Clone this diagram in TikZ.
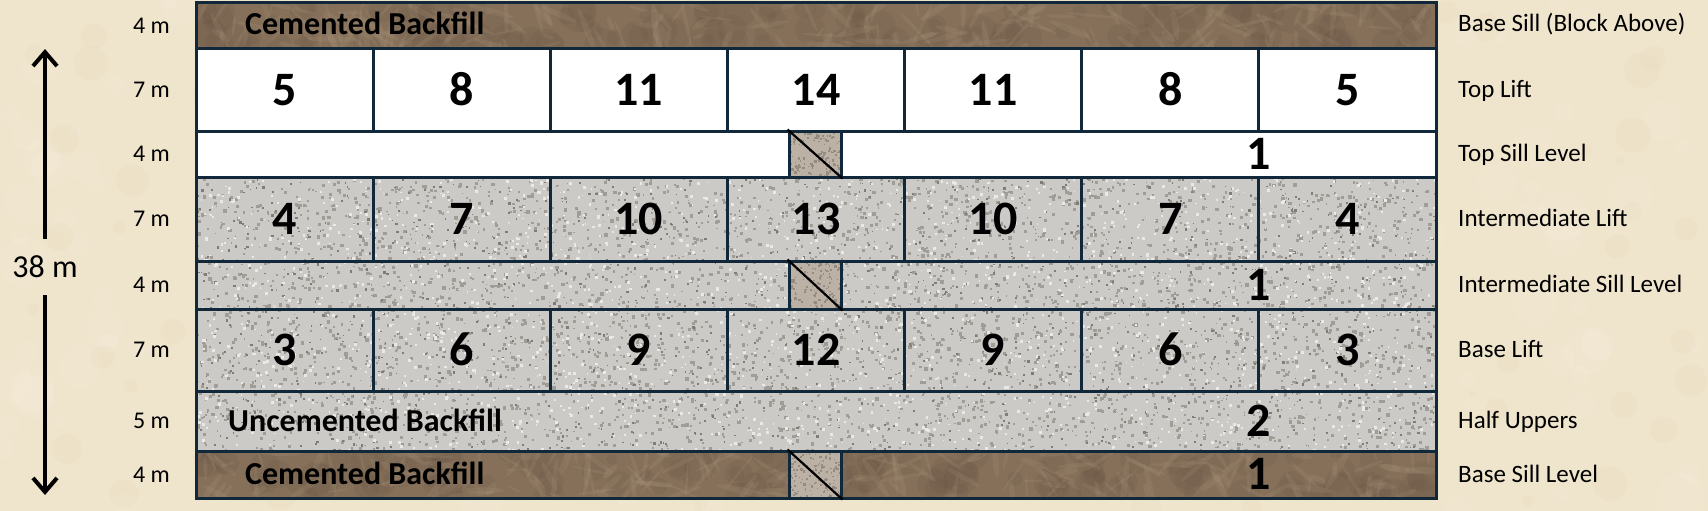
\documentclass[tikz,border=0pt]{standalone}
\usepackage{fontspec}
\setmainfont{Carlito}
\usetikzlibrary{arrows.meta}
\definecolor{parch}{RGB}{239,228,204}
\definecolor{parchlt}{RGB}{247,240,224}
\definecolor{parchdk}{RGB}{228,214,186}
\definecolor{gravel}{RGB}{204,202,198}
\definecolor{graveldk}{RGB}{160,156,150}
\definecolor{gravelvdk}{RGB}{128,124,118}
\definecolor{gravellt}{RGB}{234,233,230}
\definecolor{brownfill}{RGB}{134,112,90}
\definecolor{brownlt}{RGB}{178,158,132}
\definecolor{browndk}{RGB}{100,82,64}
\definecolor{raisefill}{RGB}{188,177,165}
\definecolor{raisedk}{RGB}{150,139,128}
\definecolor{navy}{RGB}{16,40,58}
\begin{document}
\begin{tikzpicture}[x=1pt,y=-1pt,
  rowbox/.style={draw=navy, line width=3pt, inner sep=0pt, minimum width=1240pt},
  cellbox/.style={draw=navy, line width=3pt, inner sep=0pt, minimum width=177.14pt,
    text height=30.3pt, text depth=0pt, font=\fontsize{48}{48}\selectfont\bfseries},
  numtext/.style={inner sep=0pt, text height=30.3pt, text depth=0pt,
    font=\fontsize{48}{48}\selectfont\bfseries},
  raisebox/.style={draw=navy, line width=3pt, inner sep=0pt, minimum width=52pt},
  filltext/.style={inner sep=0pt, anchor=west, text height=20.2pt, text depth=0pt,
    font=\fontsize{32}{32}\selectfont\bfseries},
  leftlabel/.style={inner sep=0pt, anchor=east, text height=15.2pt, text depth=0pt,
    font=\fontsize{24}{24}\selectfont},
  rightlabel/.style={inner sep=0pt, anchor=west, text height=15.8pt, text depth=0pt,
    font=\fontsize{25}{25}\selectfont},
  dimarrow/.style={line width=4pt, -{Straight Barb[length=14pt,width=24pt]}}
]
\useasboundingbox (0,0) rectangle (1708,511);
% parchment background
\fill[parch] (0,0) rectangle (1708,511);
\pgfmathsetseed{11}
\foreach \k in {1,...,220}{
  \pgfmathsetmacro{\px}{1708*rnd}
  \pgfmathsetmacro{\py}{511*rnd}
  \pgfmathsetmacro{\pr}{6+20*rnd}
  \fill[parchlt, opacity=0.18] (\px,\py) circle (\pr);
}
\foreach \k in {1,...,160}{
  \pgfmathsetmacro{\px}{1708*rnd}
  \pgfmathsetmacro{\py}{511*rnd}
  \pgfmathsetmacro{\pr}{4+14*rnd}
  \fill[parchdk, opacity=0.18] (\px,\py) circle (\pr);
}
% white rows
\fill[white] (196,49) rectangle (1436,177);
% gravel region
\begin{scope}
\clip (196,177) rectangle (1436,451);
\fill[gravel] (196,177) rectangle (1436,451);
\foreach \k in {1,...,4200}{
  \pgfmathsetmacro{\px}{196+1240*rnd}
  \pgfmathsetmacro{\py}{177+274*rnd}
  \pgfmathsetmacro{\pr}{1.4+2.2*rnd}
  \fill[graveldk] (\px,\py) rectangle ++(\pr,\pr);
}
\foreach \k in {1,...,1400}{
  \pgfmathsetmacro{\px}{196+1240*rnd}
  \pgfmathsetmacro{\py}{177+274*rnd}
  \pgfmathsetmacro{\pr}{1+1.6*rnd}
  \fill[gravelvdk] (\px,\py) rectangle ++(\pr,\pr);
}
\foreach \k in {1,...,2000}{
  \pgfmathsetmacro{\px}{196+1240*rnd}
  \pgfmathsetmacro{\py}{177+274*rnd}
  \pgfmathsetmacro{\pr}{1.2+2*rnd}
  \fill[gravellt] (\px,\py) rectangle ++(\pr,\pr);
}
\end{scope}
% brown bands
\foreach \ya/\yb in {2.5/49, 451/498}{
  \begin{scope}
  \clip (196,\ya) rectangle (1436,\yb);
  \fill[brownfill] (196,\ya) rectangle (1436,\yb);
  \foreach \k in {1,...,140}{
    \pgfmathsetmacro{\px}{196+1240*rnd}
    \pgfmathsetmacro{\py}{\ya+(\yb-\ya)*rnd}
    \pgfmathsetmacro{\pr}{5+14*rnd}
    \fill[browndk, opacity=0.15] (\px,\py) circle (\pr);
  }
  \foreach \k in {1,...,200}{
    \pgfmathsetmacro{\px}{196+1240*rnd}
    \pgfmathsetmacro{\py}{\ya+(\yb-\ya)*rnd}
    \pgfmathsetmacro{\pa}{6+20*rnd}
    \pgfmathsetmacro{\pb}{1+2.5*rnd}
    \pgfmathsetmacro{\pt}{180*rnd}
    \fill[brownlt, opacity=0.16, rotate around={\pt:(\px,\py)}] (\px,\py) ellipse ({\pa} and {\pb});
  }
  \end{scope}
}
% raise squares texture
\foreach \yc/\hh in {154/46, 285/48, 474.5/47}{
  \begin{scope}
  \clip (789,{\yc-\hh/2}) rectangle (841,{\yc+\hh/2});
  \fill[raisefill] (789,{\yc-\hh/2}) rectangle (841,{\yc+\hh/2});
  \foreach \k in {1,...,130}{
    \pgfmathsetmacro{\px}{789+52*rnd}
    \pgfmathsetmacro{\py}{\yc-\hh/2+\hh*rnd}
    \pgfmathsetmacro{\pr}{1+1.6*rnd}
    \fill[raisedk] (\px,\py) rectangle ++(\pr,\pr);
  }
  \end{scope}
}
% full-width rows
\node[rowbox, minimum height=46.5pt] (capband) at (816,25.75) {};
\node[rowbox, minimum height=46pt] (topsill) at (816,154) {};
\node[rowbox, minimum height=48pt] (midsill) at (816,285) {};
\node[rowbox, minimum height=60pt] (halfup) at (816,421) {};
\node[rowbox, minimum height=47pt] (basesill) at (816,474.5) {};
% lift cells
\foreach \n [count=\i from 0] in {5,8,11,14,11,8,5}
  \node[cellbox, minimum height=82pt] (top\i) at ({196+177.143*(\i+0.5)},90) {\n};
\foreach \n [count=\i from 0] in {4,7,10,13,10,7,4}
  \node[cellbox, minimum height=84pt] (mid\i) at ({196+177.143*(\i+0.5)},219) {\n};
\foreach \n [count=\i from 0] in {3,6,9,12,9,6,3}
  \node[cellbox, minimum height=82pt] (base\i) at ({196+177.143*(\i+0.5)},350) {\n};
% raises
\node[raisebox, minimum height=46pt] (raiseA) at (815,154) {};
\node[raisebox, minimum height=48pt] (raiseB) at (815,285) {};
\node[raisebox, minimum height=47pt] (raiseC) at (815,474.5) {};
\foreach \r in {raiseA,raiseB,raiseC}
  \draw[line width=2.2pt, black] (\r.north west) -- (\r.south east);
% sill numbers
\node[numtext] (numA) at (1259,154) {1};
\node[numtext] (numB) at (1259,285) {1};
\node[numtext] (numC) at (1259,421) {2};
\node[numtext] (numD) at (1259,474.5) {1};
% fill texts
\node[filltext] (cemtop) at (245,24.5) {Cemented Backfill};
\node[filltext] (uncem) at (228,421) {Uncemented Backfill};
\node[filltext] (cembot) at (245,474) {Cemented Backfill};
% left labels
\node[leftlabel] (lA) at (170,25.75) {4 m};
\node[leftlabel] (lB) at (170,90) {7 m};
\node[leftlabel] (lC) at (170,154) {4 m};
\node[leftlabel] (lD) at (170,219) {7 m};
\node[leftlabel] (lE) at (170,285) {4 m};
\node[leftlabel] (lF) at (170,350) {7 m};
\node[leftlabel] (lG) at (170,421) {5 m};
\node[leftlabel] (lH) at (170,474.5) {4 m};
% right labels
\node[rightlabel] (rA) at (1458,24) {Base Sill (Block Above)};
\node[rightlabel] (rB) at (1458,90) {Top Lift};
\node[rightlabel] (rC) at (1458,154) {Top Sill Level};
\node[rightlabel] (rD) at (1458,219) {Intermediate Lift};
\node[rightlabel] (rE) at (1458,285) {Intermediate Sill Level};
\node[rightlabel] (rF) at (1458,350) {Base Lift};
\node[rightlabel] (rG) at (1458,421) {Half Uppers};
\node[rightlabel] (rH) at (1458,474.5) {Base Sill Level};
% dimension
\node[inner xsep=0pt, inner ysep=17.9pt, text height=20.2pt, text depth=0pt,
  font=\fontsize{32}{32}\selectfont] (dim) at (45,267) {38 m};
\coordinate (dimtop) at (45,49);
\coordinate (dimbot) at (45,495);
\draw[dimarrow] (dim.north) -- (dimtop);
\draw[dimarrow] (dim.south) -- (dimbot);
\end{tikzpicture}
\end{document}
